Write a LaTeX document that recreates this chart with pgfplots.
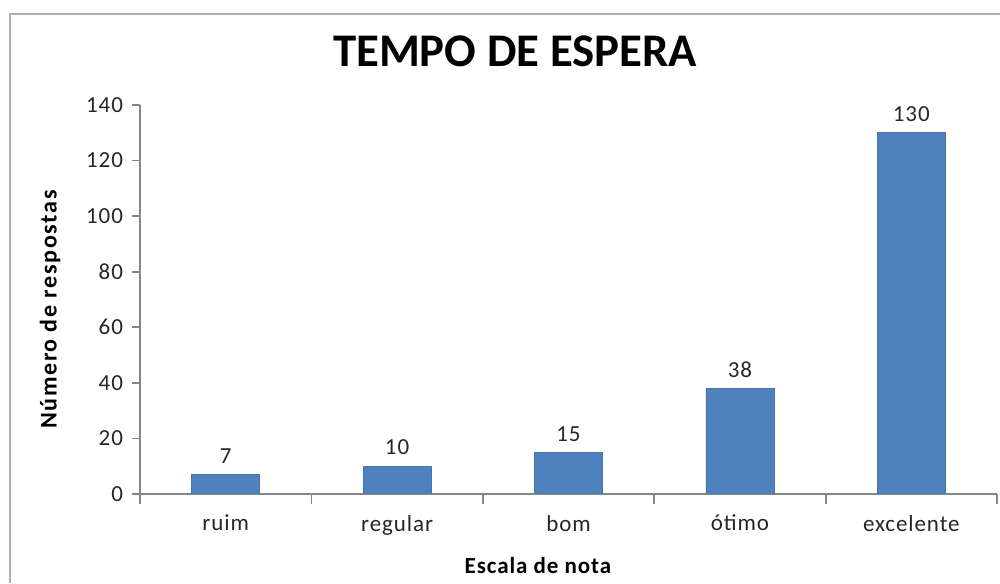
\documentclass[border=0pt]{standalone}
\usepackage{fontspec}
\setmainfont{Carlito}
\usepackage{pgfplots}
\pgfplotsset{compat=1.18}
\definecolor{barblue}{HTML}{4F81BD}
\definecolor{axgray}{HTML}{868686}
\definecolor{txt}{HTML}{262626}
\begin{document}
\begin{tikzpicture}
\useasboundingbox (0,0) rectangle (500pt,291.5pt);
\draw[color=black!30, line width=1pt] (5pt,0) -- (5pt,284.5pt) -- (500pt,284.5pt);
\begin{axis}[
  at={(70pt,44.5pt)}, anchor=south west,
  scale only axis, width=428.5pt, height=194.5pt,
  xmin=-0.5, xmax=4.5, ymin=0, ymax=140,
  axis x line*=bottom, axis y line*=left,
  axis line style={axgray, line width=0.9pt},
  every tick/.style={axgray, line width=0.9pt},
  xtick={0,1,2,3,4},
  xticklabels={ruim,regular,bom,ótimo,excelente},
  major x tick style={draw=none},
  minor xtick={-0.5,0.5,1.5,2.5,3.5,4.5},
  minor tick length=5pt,
  ytick={0,20,...,140},
  major tick length=4pt,
  tick align=outside,
  /pgf/number format/assume math mode=true,
  tick label style={font=\fontsize{11.5}{13}\selectfont\addfontfeature{LetterSpace=4}, text=txt},
  yticklabel style={xshift=-1pt},
  xticklabel style={yshift=-3pt},
  ybar, bar width=34pt,
  nodes near coords,
  every node near coord/.append style={font=\fontsize{11.5}{13}\selectfont\addfontfeature{LetterSpace=4}, text=txt, yshift=2pt},
  title={\bfseries TEMPO DE ESPERA},
  title style={font=\fontsize{23.4}{26}\selectfont, at={(axis description cs:0.4376,1.0977)}, anchor=base, yshift=-6pt},
  xlabel={\bfseries Escala de nota},
  xlabel style={font=\fontsize{11.5}{13}\selectfont\addfontfeature{LetterSpace=4}, at={(axis description cs:0.4644,-0.2031)}, anchor=base},
  ylabel={\bfseries Número de respostas},
  ylabel style={font=\fontsize{12}{14}\selectfont\addfontfeature{LetterSpace=7}, at={(axis description cs:-0.0973,0.474)}, anchor=base},
]
\addplot[fill=barblue, draw=barblue!90!black, line width=0.4pt] coordinates {(0,7) (1,10) (2,15) (3,38) (4,130)};
\end{axis}
\end{tikzpicture}
\end{document}
